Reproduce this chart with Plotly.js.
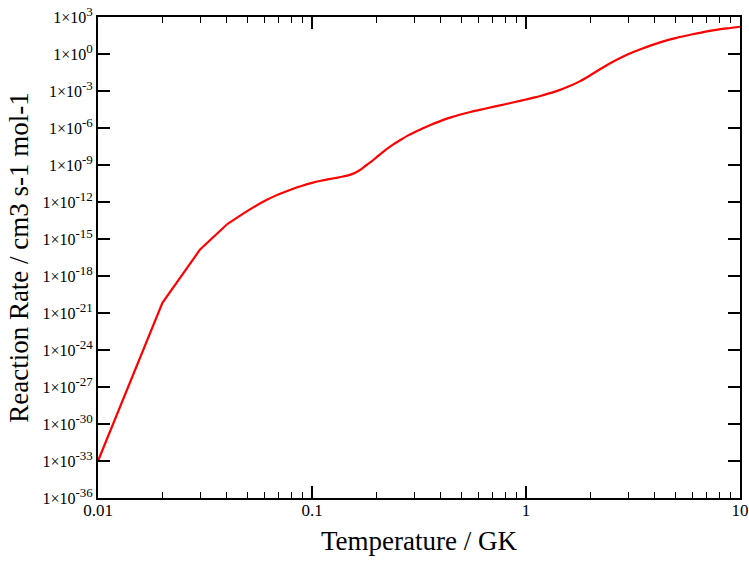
<!DOCTYPE html>
<html>
<head>
<meta charset="utf-8">
<script src="https://cdn.plot.ly/plotly-3.0.1.min.js"></script>
<style>html,body{margin:0;padding:0;background:#fff;}#chart{width:749px;height:565px;}</style>
</head>
<body>
<div id="chart"></div>
<script>
// Temperature (GK)
const temperature = [0.01, 0.02, 0.03, 0.04, 0.05, 0.06, 0.07, 0.08, 0.09, 0.10,
  0.11, 0.12, 0.13, 0.14, 0.15, 0.16, 0.17, 0.18, 0.19, 0.20,
  0.22, 0.24, 0.26, 0.28, 0.30, 0.33, 0.36, 0.40, 0.45, 0.50,
  0.55, 0.60, 0.70, 0.80, 0.90, 1.0, 1.1, 1.2, 1.4, 1.6,
  1.8, 2.0, 2.3, 2.6, 3.0, 3.5, 4.0, 4.5, 5.0, 6.0,
  7.0, 8.0, 9.0, 10.0];
// log10 of reaction rate (cm3 s-1 mol-1)
const log10Rate = [-33.0, -20.17, -15.85, -13.82, -12.72, -11.92, -11.38, -10.98, -10.68, -10.45,
  -10.28, -10.15, -10.04, -9.93, -9.80, -9.60, -9.33, -9.00, -8.70, -8.38,
  -7.80, -7.33, -6.95, -6.62, -6.36, -6.02, -5.74, -5.42, -5.12, -4.89,
  -4.70, -4.55, -4.29, -4.07, -3.87, -3.69, -3.52, -3.34, -2.99, -2.60,
  -2.18, -1.72, -1.07, -0.55, -0.02, 0.45, 0.80, 1.08, 1.29, 1.60,
  1.84, 2.00, 2.11, 2.21];
const rate = log10Rate.map(v => Math.pow(10, v));

const yTickExps = [3, 0, -3, -6, -9, -12, -15, -18, -21, -24, -27, -30, -33, -36];
const yTickVals = yTickExps.map(e => Math.pow(10, e));
const yTickText = yTickExps.map(e => '1×10<sup><span style="font-size:13px">' + e + '</span></sup>');
const xTickVals = [0.01, 0.1, 1, 10];
const xTickText = ['0.01', '0.1', '1', '10'];

const font = {family: 'Liberation Serif, Times New Roman, serif', color: '#000'};
const lineStyle = {color: '#ff0000', width: 2.2};
const splitAt = 3; // low-T part is piecewise linear, rest is smooth

Plotly.newPlot('chart', [{
  x: temperature.slice(0, splitAt + 1), y: rate.slice(0, splitAt + 1),
  type: 'scatter', mode: 'lines', line: lineStyle, hoverinfo: 'skip'
}, {
  x: temperature.slice(splitAt), y: rate.slice(splitAt),
  type: 'scatter', mode: 'lines', line: Object.assign({shape: 'spline', smoothing: 0.8}, lineStyle), hoverinfo: 'skip'
}], {
  width: 749, height: 565,
  margin: {l: 98, r: 9, t: 17, b: 67},
  paper_bgcolor: '#fff', plot_bgcolor: '#fff',
  showlegend: false,
  font: Object.assign({size: 15}, font),
  xaxis: {
    type: 'log', range: [-2, 1], autorange: false,
    tickvals: xTickVals, ticktext: xTickText,
    ticks: 'inside', ticklen: 12, tickwidth: 1.5, tickcolor: '#000',
    minor: {ticks: 'inside', ticklen: 6, tickwidth: 1, tickcolor: '#000', dtick: 'D1', showgrid: false},
    showline: true, linewidth: 2, linecolor: '#000', mirror: 'ticks',
    showgrid: false, zeroline: false,
    tickfont: Object.assign({size: 17}, font),
    ticklabelstandoff: -4,
    title: {text: 'Temperature / GK', font: Object.assign({size: 27}, font), standoff: 12},
    automargin: false
  },
  yaxis: {
    type: 'log', range: [-36, 3], autorange: false,
    tickvals: yTickVals, ticktext: yTickText,
    ticks: 'inside', ticklen: 12, tickwidth: 1.5, tickcolor: '#000',
    showline: true, linewidth: 2, linecolor: '#000', mirror: 'ticks',
    showgrid: false, zeroline: false,
    tickfont: Object.assign({size: 16}, font),
    title: {text: 'Reaction Rate / cm3 s-1 mol-1', font: Object.assign({size: 27}, font), standoff: 6},
    automargin: false
  }
}, {displayModeBar: false, staticPlot: true});
</script>
</body>
</html>
